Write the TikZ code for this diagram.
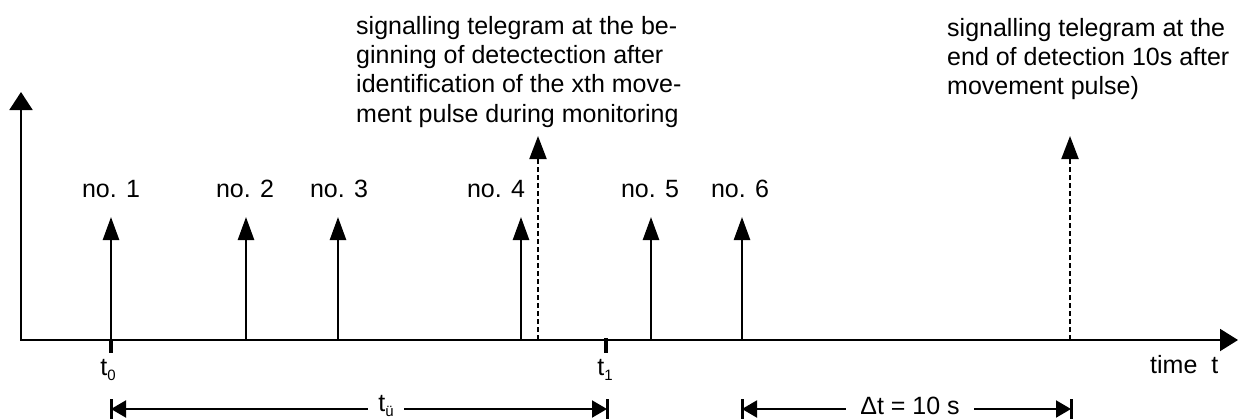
\documentclass[tikz,border=0pt]{standalone}
\usepackage{fontspec}
\setmainfont{Liberation Sans}
\usetikzlibrary{arrows.meta}
\newcommand\lowsub[1]{\raisebox{-5pt}{\fontsize{15}{15}\selectfont #1}}
\begin{document}
\begin{tikzpicture}[x=1pt,y=-1pt,
  lbl/.style={font=\fontsize{25}{29.3}\selectfont, inner sep=0pt},
  axisline/.style={line width=2pt},
  pulse/.style={line width=2.5pt, -{Triangle[length=23pt,width=16pt]}},
  telegram/.style={line width=2pt, dash pattern=on 5pt off 3pt, -{Triangle[length=23pt,width=17pt]}},
  tickmark/.style={line width=3.5pt},
  dimline/.style={line width=2pt, {Triangle[length=15pt,width=17pt]}-{Triangle[length=15pt,width=17pt]}},
  dimbar/.style={line width=3pt},
  gaplabel/.style={lbl, fill=white, anchor=base},
]
\useasboundingbox (0,0) rectangle (1246,418);
% axes
\coordinate (O) at (21,340);
\coordinate (ytip) at (21,92);
\coordinate (xtip) at (1238,340);
\draw[axisline, {Triangle[length=18pt,width=23pt]}-{Triangle[length=18pt,width=22pt]}] (ytip) -- (O) -- (xtip);
% pulses
\foreach \x [count=\i] in {111,246,338,521,651,742} {
  \coordinate (pb\i) at (\x,340);
  \coordinate (pt\i) at (\x,217);
  \draw[pulse] (pb\i) -- (pt\i);
}
\node[lbl, anchor=base] (n1) at (111,197) {no. 1};
\node[lbl, anchor=base] (n2) at (245,197) {no. 2};
\node[lbl, anchor=base] (n3) at (339,197) {no. 3};
\node[lbl, anchor=base] (n4) at (496,197) {no. 4};
\node[lbl, anchor=base] (n5) at (650,197) {no. 5};
\node[lbl, anchor=base] (n6) at (740,197) {no. 6};
% telegrams
\coordinate (sb1) at (538,340);
\coordinate (st1) at (538,136);
\coordinate (sb2) at (1070,340);
\coordinate (st2) at (1070,136);
\draw[telegram] (sb1) -- (st1);
\draw[telegram] (sb2) -- (st2);
\node[lbl, anchor=north west, align=left] (tg1) at (356,16)
  {signalling telegram at the be-\\ginning of detectection after\\identification of the xth move-\\ment pulse during monitoring};
\node[lbl, anchor=north west, align=left] (tg2) at (947,18)
  {signalling telegram at the\\end of detection 10s after\\movement pulse)};
% ticks
\coordinate (k0a) at (111,340); \coordinate (k0b) at (111,353);
\coordinate (k1a) at (606,338); \coordinate (k1b) at (606,353);
\draw[tickmark] (k0a) -- (k0b);
\draw[tickmark] (k1a) -- (k1b);
\node[lbl, anchor=base] (t0) at (108,375) {t\lowsub{0}};
\node[lbl, anchor=base] (t1) at (605,375) {t\lowsub{1}};
\node[lbl, anchor=base west] (timet) at (1150,373) {time\ \ t};
% dimension 1
\coordinate (d1a) at (111,409); \coordinate (d1b) at (607,409);
\draw[dimline] (d1a) -- (d1b);
\draw[dimbar] (111,399) -- (111,420);
\draw[dimbar] (607,399) -- (607,420);
\node[gaplabel, inner xsep=10pt, inner ysep=0.5pt] (tue) at (386,411) {t\lowsub{ü}};
% dimension 2
\coordinate (d2a) at (742,409); \coordinate (d2b) at (1071,409);
\draw[dimline] (d2a) -- (d2b);
\draw[dimbar] (742,399) -- (742,420);
\draw[dimbar] (1071,399) -- (1071,420);
\node[gaplabel, inner xsep=14pt, inner ysep=0.5pt] (dt) at (910,414) {Δt = 10 s};
\end{tikzpicture}
\end{document}
